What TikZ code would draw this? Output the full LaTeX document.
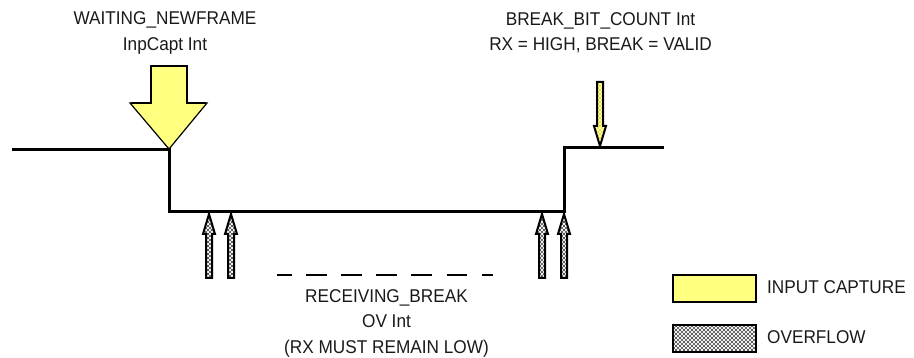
\documentclass[tikz,border=0pt]{standalone}
\usepackage{fontspec}
\setmainfont[FakeStretch=0.93]{Liberation Sans}
\usetikzlibrary{patterns}
\definecolor{capt}{RGB}{255,255,128}
\pgfdeclarepatternformonly{xhatch}{\pgfqpoint{-1pt}{-1pt}}{\pgfqpoint{5pt}{5pt}}{\pgfqpoint{4pt}{4pt}}{%
 \pgfsetlinewidth{0.5pt}%
 \pgfpathmoveto{\pgfqpoint{-0.5pt}{-0.5pt}}\pgfpathlineto{\pgfqpoint{4.5pt}{4.5pt}}%
 \pgfpathmoveto{\pgfqpoint{-0.5pt}{4.5pt}}\pgfpathlineto{\pgfqpoint{4.5pt}{-0.5pt}}%
 \pgfusepath{stroke}}
\tikzset{
 wave/.style={line width=3pt,miter limit=10},
 lbl/.style={font=\fontsize{18.5}{25.5}\selectfont,align=center,inner sep=0pt,text=black!90},
 ovf/.style={pattern=xhatch,pattern color=black!70},
 hatcharrow/.style={draw=black,line width=2pt,line join=miter,ovf},
 bigarrow/.style={draw=black,line width=1.2pt,fill=capt,line join=miter},
 yellowarrow/.style={draw=black,line width=2pt,pattern=xhatch,pattern color=yellow!90!black},
 legendbox/.style={draw=black,line width=2pt,minimum width=83pt,minimum height=27pt,inner sep=0pt},
}
\newcommand{\uparr}[1]{\draw[hatcharrow] (#1-3,278) -- (#1-3,234) -- (#1-6,234) -- (#1,214) -- (#1+6,234) -- (#1+3,234) -- (#1+3,278) -- cycle;}
\begin{document}
\begin{tikzpicture}[x=1pt,y=-1pt]
\useasboundingbox (0,0) rectangle (914,358);
\coordinate (w0) at (12,150);
\coordinate (w1) at (169,150);
\coordinate (w2) at (169,212);
\coordinate (w3) at (564,212);
\coordinate (w4) at (564,148);
\coordinate (w5) at (664,148);
\draw[wave] (w0) -- (w1) -- (w2) -- (w3) -- (w4) -- (w5);
% big yellow arrow: thin diagonals, heavier straight edges
\draw[bigarrow] (130,103) -- (151,103) -- (151,66) -- (187,66) -- (187,103) -- (207,103) -- (169,149) -- cycle;
\draw[line width=2.2pt,line join=miter] (131,103) -- (151,103) -- (151,66) -- (187,66) -- (187,103) -- (206,103);
% small yellow arrow
\draw[yellowarrow] (597,82) -- (597,126) -- (594,126) -- (600,146) -- (606,126) -- (603,126) -- (603,82) -- cycle;
% overflow arrows
\uparr{209}
\uparr{231}
\uparr{542}
\uparr{564}
% dashes
\coordinate (d0) at (277,275);
\coordinate (d1) at (493,275);
\draw[line width=1.6pt,dash pattern=on 20.5pt off 14.6pt,dash phase=6pt] (d0) -- (d1);
% texts
\node[lbl] (t1) at (165,33) {WAITING\_NEWFRAME\\InpCapt Int};
\node[lbl] (t2) at (600.5,32.5) {BREAK\_BIT\_COUNT Int\\RX = HIGH, BREAK = VALID};
\node[lbl] (t3) at (386.5,323) {RECEIVING\_BREAK\\OV Int\\(RX MUST REMAIN LOW)};
% legend
\node[legendbox,fill=capt] (l1) at (714,289) {};
\node[legendbox,ovf] (l2) at (714,339) {};
\node[lbl,anchor=west] (l1t) at (767,287) {INPUT CAPTURE};
\node[lbl,anchor=west] (l2t) at (767,337) {OVERFLOW};
\end{tikzpicture}
\end{document}
